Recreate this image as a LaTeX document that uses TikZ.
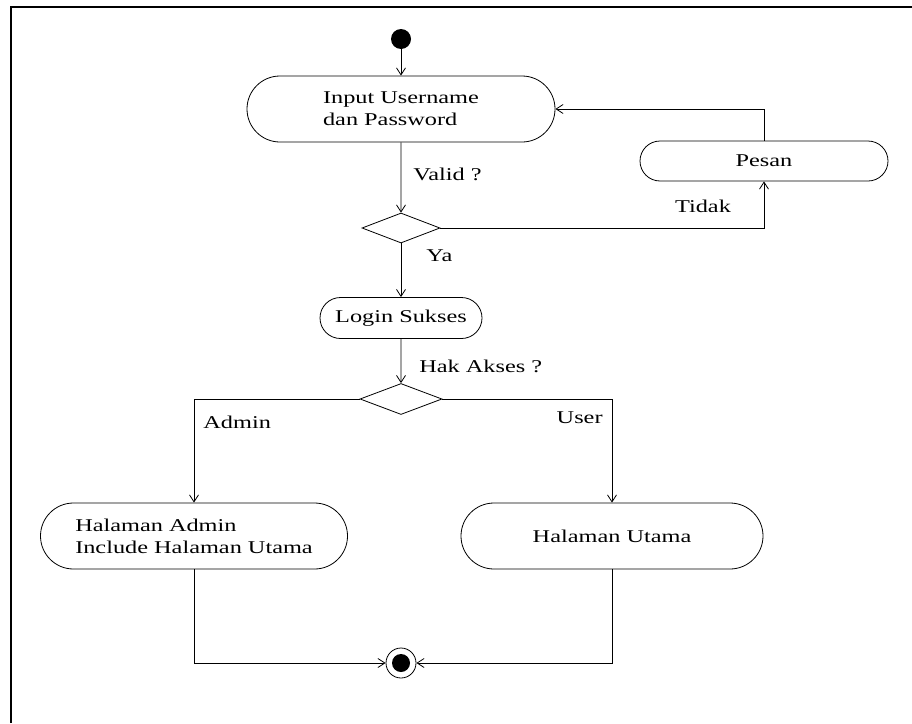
\documentclass[tikz,border=0pt]{standalone}
\usepackage{fontspec}
\setmainfont{Liberation Serif}[FakeStretch=1.35]
\usetikzlibrary{positioning, arrows.meta, shapes.geometric, shapes.misc}

\begin{document}
\begin{tikzpicture}
    [
        x=1pt, y=-1pt, on grid, line width=0.8pt,
        font=\fontsize{18}{22}\selectfont,
        >={Straight Barb[length=7pt, width=9pt]},
        act_node/.style={rounded rectangle, draw=black, line width=0.8pt, align=left, inner sep=0pt},
        dec_node/.style={diamond, draw=black, line width=0.8pt, inner sep=0pt, minimum width=78pt, minimum height=30pt},
        start_node/.style={circle, fill=black, inner sep=0pt, minimum size=20pt},
        end_node/.style={circle, draw=black, inner sep=0pt, minimum size=30pt, path picture={\fill[black] (path picture bounding box.center) circle (9pt);}},
        edge_label/.style={inner sep=0pt},
    ]
        \useasboundingbox (0,0) rectangle (912,723) ;
        \draw[line width=2pt] (11,723) -- (11,7) -- (912,7) ;
        \node[start_node] (start) at (401,39) {} ;
        \node[act_node, minimum width=308pt, minimum height=66pt] (input) [below = 70pt of start] {Input Username\\dan Password} ;
        \node[dec_node] (valid) [below = 119pt of input] {} ;
        \node[act_node, minimum width=248pt, minimum height=40pt] (pesan) [above right = 67pt and 363pt of valid] {Pesan} ;
        \node[act_node, minimum width=162pt, minimum height=41pt] (login) [below = 90pt of valid] {Login Sukses} ;
        \node[dec_node, minimum width=82pt, minimum height=31pt] (akses) [below = 81pt of login] {} ;
        \node[act_node, minimum width=307pt, minimum height=66pt] (admin) [below left = 137pt and 207pt of akses] {Halaman Admin\\Include Halaman Utama} ;
        \node[act_node, minimum width=302pt, minimum height=66pt] (utama) [below right = 137pt and 211pt of akses] {Halaman Utama} ;
        \node[end_node] (finish) [below = 264pt of akses] {} ;
        \draw[->] (start) -- (input) ;
        \draw[->] (input) -- node[edge_label, pos=0.54, anchor=base west, xshift=12pt] (lvalid) {Valid ?} (valid) ;
        \draw[->] (valid.east) -| node[edge_label, pos=0.362, anchor=base west, yshift=16pt] (ltidak) {Tidak} (pesan.south) ;
        \draw[->] (pesan.north) |- (input.east) ;
        \draw[->] (valid) -- node[edge_label, pos=0.345, anchor=base west, xshift=25pt] (lya) {Ya} (login) ;
        \draw[->] (login) -- node[edge_label, pos=0.77, anchor=base west, xshift=18pt] (lakses) {Hak Akses ?} (akses) ;
        \draw[->] (akses.west) -| node[edge_label, pos=0.64, anchor=base west, xshift=9pt] (ladmin) {Admin} (admin.north) ;
        \draw[->] (akses.east) -| node[edge_label, pos=0.62, anchor=base east, xshift=-9pt] (luser) {User} (utama.north) ;
        \draw[->] (admin.south) |- (finish.west) ;
        \draw[->] (utama.south) |- (finish.east) ;
    \end{tikzpicture}
\end{document}
